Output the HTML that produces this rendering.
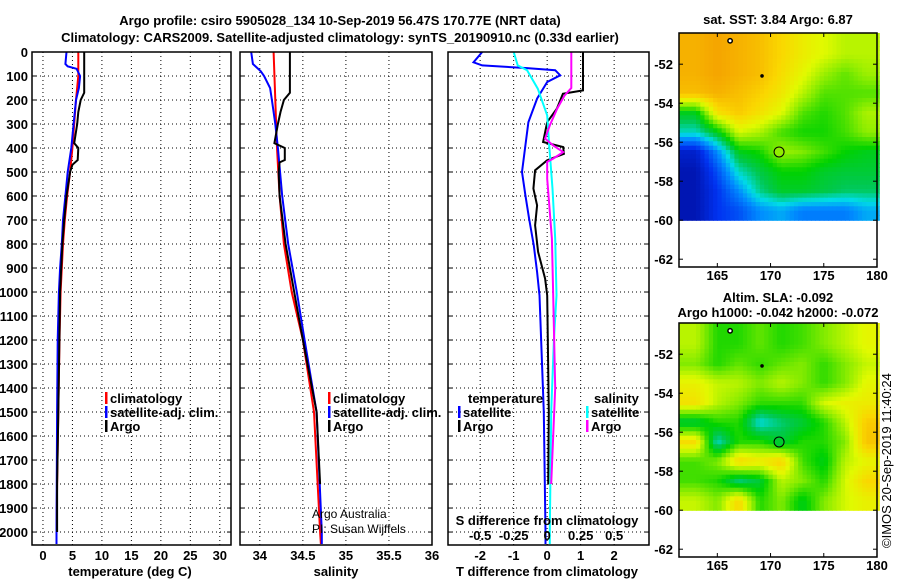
<!DOCTYPE html>
<html><head><meta charset="utf-8"><style>
body{margin:0;background:#fff}
svg text{font-family:"Liberation Sans",Arial,sans-serif;font-weight:bold;font-size:13px;fill:#000}
</style></head><body>
<svg id="c" width="900" height="580" xmlns="http://www.w3.org/2000/svg">
<text x="340" y="25" text-anchor="middle" font-size="14">Argo profile: csiro 5905028_134 10-Sep-2019 56.47S 170.77E (NRT data)</text>
<text x="340" y="42" text-anchor="middle" font-size="14">Climatology: CARS2009. Satellite-adjusted climatology: synTS_20190910.nc (0.33d earlier)</text>
<text x="778" y="24" text-anchor="middle">sat. SST: 3.84 Argo: 6.87</text>
<text x="778" y="302" text-anchor="middle">Altim. SLA: -0.092</text>
<text x="778" y="317" text-anchor="middle">Argo h1000: -0.042 h2000: -0.072</text>
<text transform="translate(891,548) rotate(-90)" style="font-weight:normal;font-size:13px">©IMOS 20-Sep-2019 11:40:24</text>
</svg>
<script>
// ---- data ----
const depthTicks=[0,100,200,300,400,500,600,700,800,900,1000,1100,1200,1300,1400,1500,1600,1700,1800,1900,2000];
const tempTicks=[0,5,10,15,20,25,30];
const salTicks=[34,34.5,35,35.5,36];
const salTickLabels=["34","34.5","35","35.5","36"];
const tdiffTicks=[-2,-1,0,1,2];
const sdiffTicks=[-0.5,-0.25,0,0.25,0.5];
const sdiffTickLabels=["-0.5","-0.25","0","0.25","0.5"];

const climTD=[0,100,200,300,400,500,600,700,800,900,1000,1200,1500,1800,2000,2050];
const climT=[6.0,6.0,5.6,5.3,5.0,4.6,4.1,3.7,3.4,3.2,3.0,2.8,2.6,2.4,2.3,2.3];
const satTD=[0,50,60,70,100,150,200,300,400,500,600,700,800,900,1000,1200,1500,2000,2050];
const satT=[4.0,3.8,4.2,5.7,6.3,6.1,5.6,5.2,4.8,4.2,3.8,3.4,3.2,2.9,2.7,2.5,2.4,2.3,2.3];
const argoTD=[0,170,200,250,300,380,400,450,470,500,600,700,800,900,1000,1500,1800,2000];
const argoT=[7.0,7.0,6.4,6.0,5.8,5.3,6.0,5.9,5.0,4.6,4.0,3.6,3.3,3.1,2.9,2.6,2.4,2.4];

const climSD=[0,400,600,800,1000,1200,1500,2000,2050];
const climS=[34.16,34.2,34.23,34.28,34.37,34.5,34.63,34.7,34.71];
const satSD=[0,50,80,100,150,200,300,400,600,800,1000,1200,1500,2000,2050];
const satS=[33.9,33.92,34.01,34.05,34.12,34.14,34.18,34.21,34.26,34.33,34.43,34.52,34.66,34.72,34.72];
const argoSD=[0,170,200,250,300,380,400,450,460,500,600,800,1000,1200,1500,1800];
const argoS=[34.35,34.35,34.28,34.24,34.21,34.17,34.29,34.29,34.23,34.22,34.23,34.3,34.4,34.5,34.66,34.7];

const satTdD=[0,43,56,67,76,97,125,194,292,389,500,597,694,806,917,1014,1500,2000,2050];
const satTd=[-1.94,-2.2,-1.94,-0.6,0.24,0.39,0,-0.3,-0.56,-0.65,-0.75,-0.65,-0.54,-0.4,-0.3,-0.23,-0.1,-0.05,-0.05];
const argoTdD=[0,160,174,236,292,375,396,424,451,493,569,639,722,833,944,1014,1500,1800];
const argoTd=[1.07,1.07,0.47,0.29,0,-0.12,0.48,0.5,0,-0.36,-0.41,-0.3,-0.36,-0.27,-0.06,0,0.05,0.03];
const satSdD=[0,56,76,153,264,389,569,778,1014,1200,1500,2000,2050];
const satSd=[-0.25,-0.22,-0.15,-0.07,0,0.015,0.04,0.06,0.07,0.05,0.03,0.02,0.02];
const argoSdD=[0,150,181,236,306,361,389,417,444,458,528,778,1014,1400,1800];
const argoSd=[0.18,0.18,0.13,0.075,0.02,-0.015,0.045,0.12,0.045,0,0,0.035,0.045,0.06,0.03];

const mapLatTicks=[-52,-54,-56,-58,-60,-62];
const mapLonTicks=[165,170,175,180];
const mapLons=[163,165,167,169,171,173,175,177,179];
const mapLats=[-51.5,-52.5,-53.5,-54.5,-55.5,-56.5,-57.5,-58.5,-59.5];
const sstGrid=[
[0.8,0.82,0.8,0.78,0.74,0.7,0.67,0.64,0.64],
[0.8,0.82,0.8,0.78,0.73,0.68,0.62,0.58,0.62],
[0.78,0.8,0.78,0.75,0.71,0.64,0.57,0.57,0.57],
[0.5,0.72,0.76,0.72,0.67,0.57,0.54,0.57,0.63],
[0.4,0.5,0.66,0.63,0.56,0.53,0.53,0.56,0.61],
[0.12,0.3,0.5,0.53,0.62,0.6,0.56,0.52,0.5],
[0.08,0.22,0.4,0.47,0.52,0.52,0.49,0.48,0.48],
[0.08,0.18,0.3,0.43,0.49,0.49,0.47,0.45,0.45],
[0.08,0.18,0.22,0.3,0.33,0.28,0.28,0.28,0.33]];
const slaGrid=[
[0.64,0.54,0.54,0.58,0.54,0.56,0.6,0.64,0.68],
[0.6,0.54,0.58,0.55,0.58,0.6,0.55,0.6,0.65],
[0.69,0.65,0.64,0.6,0.64,0.6,0.55,0.6,0.68],
[0.72,0.64,0.6,0.55,0.55,0.55,0.66,0.69,0.7],
[0.47,0.54,0.54,0.38,0.44,0.48,0.54,0.64,0.76],
[0.73,0.4,0.54,0.54,0.48,0.54,0.54,0.6,0.77],
[0.56,0.6,0.74,0.71,0.75,0.56,0.5,0.64,0.68],
[0.56,0.54,0.44,0.48,0.64,0.6,0.54,0.66,0.74],
[0.65,0.6,0.74,0.54,0.6,0.5,0.6,0.66,0.69]];
const floatLon=[170.8], floatLat=[-56.5];

// ---- drawing ----
const svg=document.getElementById('c');
const NS='http://www.w3.org/2000/svg';
function mk(tag,attrs,parent){const e=document.createElementNS(NS,tag);for(const k in attrs)e.setAttribute(k,attrs[k]);(parent||svg).appendChild(e);return e;}
const Y0=52,Y1=545,D0=0,D1=2054;
const yD=d=>Y0+(d-D0)/(D1-D0)*(Y1-Y0);

function panel(name,x0,x1,v0,v1){
  const g=mk('g',{});
  
  
  return {g,x:v=>x0+(v-v0)/(v1-v0)*(x1-x0),x0,x1};
}
function frame(p){
  const r=mk('rect',{x:p.x0,y:Y0,width:p.x1-p.x0,height:Y1-Y0,fill:'none',stroke:'#000','stroke-width':1.5},p.g);
  
  
}
function grid(p,xt){
  depthTicks.forEach(d=>{const l=mk('line',{x1:p.x0,x2:p.x1,y1:yD(d),y2:yD(d),stroke:'#000','stroke-dasharray':'1 3'},p.g);
    
    mk('line',{x1:p.x0,x2:p.x0+4,y1:yD(d),y2:yD(d),stroke:'#000'},p.g);
    mk('line',{x1:p.x1-4,x2:p.x1,y1:yD(d),y2:yD(d),stroke:'#000'},p.g);});
  xt.forEach(v=>{const l=mk('line',{x1:p.x(v),x2:p.x(v),y1:Y0,y2:Y1,stroke:'#000','stroke-dasharray':'1 3'},p.g);
    });
}
function line(p,xs,ds,color,name){
  const pts=xs.map((v,i)=>p.x(v).toFixed(1)+','+yD(ds[i]).toFixed(1)).join(' ');
  const l=mk('polyline',{points:pts,fill:'none',stroke:color,'stroke-width':2},p.g);
  
  
}
function text(t,x,y,anchor,parent,name,extra){
  const e=mk('text',Object.assign({x,y,'text-anchor':anchor||'start'},extra||{}),parent);
  e.textContent=t;
  
  
  return e;
}
function legend(p,x,y,items,name){
  items.forEach((it,i)=>{
    const b=mk('rect',{x:x,y:y+i*14-11,width:2.5,height:12,fill:it[1]},p.g);
    
    text(it[0],x+5,y+i*14,'start',p.g,name+'-entry');
  });
}

// panel 1: temperature
const p1=panel('temperature-panel',32,231,-1.86,31.9);
grid(p1,tempTicks);
line(p1,climT,climTD,'#f00','climatology-temp-line');
line(p1,satT,satTD,'#00f','satellite-temp-line');
line(p1,argoT,argoTD,'#000','argo-temp-line');
frame(p1);
depthTicks.forEach(d=>text(String(d),28,yD(d)+5,'end',p1.g,'depth-tick-label'));
tempTicks.forEach(v=>text(String(v),p1.x(v),560,'middle',p1.g,'temp-tick-label'));
text('temperature (deg C)',130,576,'middle',p1.g,'temperature-axis-title');
legend(p1,105,403,[['climatology','#f00'],['satellite-adj. clim.','#00f'],['Argo','#000']],'temp-legend');

// panel 2: salinity
const p2=panel('salinity-panel',240,432,33.77,36.0);
grid(p2,salTicks);
line(p2,climS,climSD,'#f00','climatology-sal-line');
line(p2,satS,satSD,'#00f','satellite-sal-line');
line(p2,argoS,argoSD,'#000','argo-sal-line');
frame(p2);
salTicks.forEach((v,i)=>text(salTickLabels[i],p2.x(v),560,'middle',p2.g,'sal-tick-label'));
text('salinity',336,576,'middle',p2.g,'salinity-axis-title');
legend(p2,328,403,[['climatology','#f00'],['satellite-adj. clim.','#00f'],['Argo','#000']],'sal-legend');
text('Argo Australia',312,518,'start',p2.g,'credit-argo-australia',{style:'font-weight:normal;font-size:12px'});
text('PI: Susan Wijffels',312,533,'start',p2.g,'credit-pi',{style:'font-weight:normal;font-size:12px'});

// panel 3: differences
const p3=panel('difference-panel',448,649,-2.96,3.04);
const sx=v=>p3.x(v*4);
grid(p3,tdiffTicks);
line(p3,satTd,satTdD,'#00f','satellite-tdiff-line');
line(p3,argoTd,argoTdD,'#000','argo-tdiff-line');
line(p3,satSd.map(v=>v*4),satSdD,'#0ff','satellite-sdiff-line');
line(p3,argoSd.map(v=>v*4),argoSdD,'#f0f','argo-sdiff-line');
frame(p3);
tdiffTicks.forEach(v=>text(String(v),p3.x(v),560,'middle',p3.g,'tdiff-tick-label'));
sdiffTicks.forEach((v,i)=>text(sdiffTickLabels[i],sx(v),540,'middle',p3.g,'sdiff-tick-label'));
text('S difference from climatology',547,525,'middle',p3.g,'sdiff-axis-title');
text('T difference from climatology',547,576,'middle',p3.g,'tdiff-axis-title');
text('temperature',468,403,'start',p3.g,'tdiff-legend-title');
legend(p3,458,417,[['satellite','#00f'],['Argo','#000']],'tdiff-legend');
text('salinity',594,403,'start',p3.g,'sdiff-legend-title');
legend(p3,586,417,[['satellite','#0ff'],['Argo','#f0f']],'sdiff-legend');

// maps
const cmapStops=[[0,[0,0,130]],[0.18,[0,50,240]],[0.3,[0,140,255]],[0.38,[0,220,230]],[0.46,[0,200,80]],[0.52,[0,210,0]],[0.6,[130,235,0]],[0.67,[225,250,0]],[0.74,[250,215,0]],[0.82,[245,165,0]],[1,[220,60,0]]];
function cmap(v){
  v=Math.max(0,Math.min(1,v));
  for(let i=1;i<cmapStops.length;i++){
    if(v<=cmapStops[i][0]){const [a,ca]=cmapStops[i-1],[b,cb]=cmapStops[i];const t=(v-a)/(b-a);
      return 'rgb('+ca.map((c,k)=>Math.round(c+(cb[k]-c)*t)).join(',')+')';}
  }
  return 'rgb(220,60,0)';
}
function interp(grid,lon,lat){
  let fi=(lon-mapLons[0])/(mapLons[1]-mapLons[0]), fj=(lat-mapLats[0])/(mapLats[1]-mapLats[0]);
  fi=Math.max(0,Math.min(mapLons.length-1,fi)); fj=Math.max(0,Math.min(mapLats.length-1,fj));
  const i0=Math.min(Math.floor(fi),mapLons.length-2), j0=Math.min(Math.floor(fj),mapLats.length-2);
  const a=fi-i0,b=fj-j0;
  return grid[j0][i0]*(1-a)*(1-b)+grid[j0][i0+1]*a*(1-b)+grid[j0+1][i0]*(1-a)*b+grid[j0+1][i0+1]*a*b;
}
function map(name,grid,top){
  const g=mk('g',{});
  
  
  const X0=679,X1=877,L0=161.4,L1=180,LA0=-50.4,LA1=-62.4,bottom=top+234;
  const mx=v=>X0+(v-L0)/(L1-L0)*(X1-X0), my=v=>top+(v-LA0)/(LA1-LA0)*(bottom-top);
  const step=0.4;
  for(let lat=LA0;lat>-60-1e-6;lat-=step/1.8){
    for(let lon=L0;lon<L1-1e-6;lon+=step){
      const la2=Math.max(lat-step/1.8,-60);
      const r=mk('rect',{x:mx(lon).toFixed(1),y:my(lat).toFixed(1),width:(mx(lon+step)-mx(lon)+0.6).toFixed(1),height:(my(la2)-my(lat)+0.6).toFixed(1),fill:cmap(interp(grid,lon+step/2,(lat+la2)/2))},g);
      
      
    }
  }
  const f=mk('rect',{x:X0,y:top,width:X1-X0,height:bottom-top,fill:'none',stroke:'#000','stroke-width':1.5},g);
  
  mapLatTicks.forEach(v=>{text(String(v),673,my(v)+5,'end',g,'map-lat-label');
    mk('line',{x1:X0,x2:X0+4,y1:my(v),y2:my(v),stroke:'#000'},g);mk('line',{x1:X1-4,x2:X1,y1:my(v),y2:my(v),stroke:'#000'},g);});
  mapLonTicks.forEach(v=>{text(String(v),mx(v),bottom+13,'middle',g,'map-lon-label');
    mk('line',{x1:mx(v),x2:mx(v),y1:bottom,y2:bottom-4,stroke:'#000'},g);mk('line',{x1:mx(v),x2:mx(v),y1:top,y2:top+4,stroke:'#000'},g);});
  floatLon.forEach((lo,i)=>{const c=mk('circle',{cx:mx(lo),cy:my(floatLat[i]),r:5,fill:cmap(interp(grid,lo,floatLat[i])),stroke:'#000','stroke-width':1},g);
    });
  const d=mk('circle',{cx:mx(169.2),cy:my(-52.6),r:1.8,fill:'#000'},g);
  
  const d2=mk('circle',{cx:mx(166.2),cy:my(-50.8),r:2.2,fill:'#fff',stroke:'#000','stroke-width':1.5},g);
  
}
map('sst-map',sstGrid,33);
map('sla-map',slaGrid,323);
</script>
</body></html>
